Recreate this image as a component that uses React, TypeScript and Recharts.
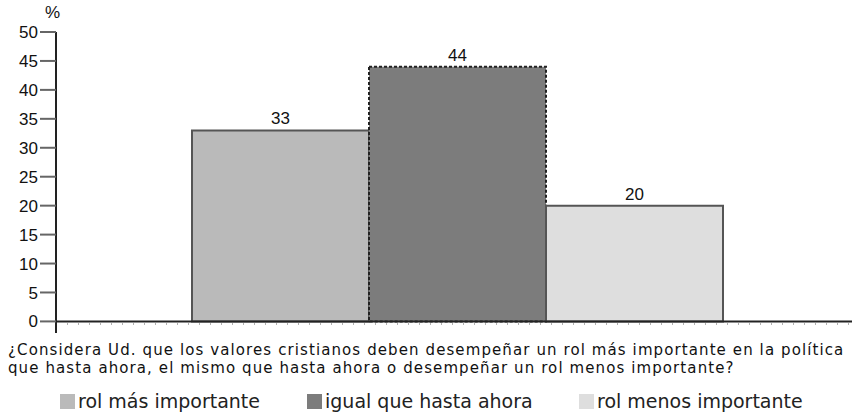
import { BarChart, Bar, XAxis, YAxis, LabelList, Legend, ReferenceLine } from "recharts";

// single survey question, three answer shares (%)
const seriesNames = ["rol más importante", "igual que hasta ahora", "rol menos importante"];
const seriesValues = [33, 44, 20];
const seriesColors = ["#bababa", "#7c7c7c", "#dedede"];
const yTicks = [0, 5, 10, 15, 20, 25, 30, 35, 40, 45, 50];
const questionLines = [
  "¿Considera Ud. que los valores cristianos deben desempeñar un rol más importante en la política",
  "que hasta ahora, el mismo que hasta ahora o desempeñar un rol menos importante?",
];

const data = [
  seriesNames.reduce(
    (row: Record<string, string | number>, name, i) => {
      row["s" + i] = seriesValues[i];
      return row;
    },
    { name: "q" }
  ),
];

const strokes = ["#555", "#222", "#555"];
const dashes = [undefined, "3 2", undefined];

const legendLeft = [60, 307, 579];

function LegendContent() {
  return (
    <div style={{ position: "relative", width: 852, height: 24 }}>
      {seriesNames.map((n, i) => (
        <div
          key={n}
          style={{
            position: "absolute",
            left: legendLeft[i],
            top: 0,
            display: "flex",
            alignItems: "center",
            fontFamily: "DejaVu Sans",
            fontSize: 19,
            color: "#222",
            whiteSpace: "nowrap",
          }}
        >
          <span
            style={{
              display: "inline-block",
              width: 15,
              height: 15,
              background: seriesColors[i],
              marginRight: 3,
            }}
          />
          {n}
        </div>
      ))}
    </div>
  );
}

export default function App() {
  return (
    <div
      style={{
        position: "absolute",
        left: 0,
        top: 0,
        width: 852,
        height: 420,
        background: "#fff",
      }}
    >
      <div
        style={{
          position: "absolute",
          left: 45,
          top: 3,
          fontFamily: "Liberation Sans",
          fontSize: 17,
          color: "#111",
        }}
      >
        %
      </div>
      <BarChart
        width={852}
        height={420}
        data={data}
        margin={{ top: 32, right: 0, left: 0, bottom: 87 }}
        barGap={0}
        barSize={177}
      >
        <XAxis
          dataKey="name"
          tick={false}
          tickLine={false}
          height={0}
          padding={{ left: 6, right: 0 }}
          axisLine={false}
        />
        <YAxis
          domain={[-2, 50]}
          ticks={yTicks}
          width={56}
          interval={0}
          allowDataOverflow
          tickSize={16}
          tickMargin={2}
          tickLine={{ stroke: "#666", strokeWidth: 2 }}
          axisLine={{ stroke: "#222", strokeWidth: 2 }}
          tick={{ fontSize: 17, fill: "#111", fontFamily: "Liberation Sans" }}
        />
        <ReferenceLine y={-0.45} stroke="#b0b0b0" strokeWidth={2} strokeDasharray="1 10" />
        {seriesNames.map((n, i) => (
          <Bar
            key={n}
            dataKey={"s" + i}
            name={n}
            fill={seriesColors[i]}
            stroke={strokes[i]}
            strokeWidth={2}
            strokeDasharray={dashes[i]}
            isAnimationActive={false}
          >
            <LabelList
              dataKey={"s" + i}
              position="top"
              offset={6}
              fill="#111"
              fontSize={17}
              fontFamily="Liberation Sans"
            />
          </Bar>
        ))}
        <ReferenceLine y={0} stroke="#222" strokeWidth={2} />
        <Legend
          layout="horizontal"
          verticalAlign="middle"
          wrapperStyle={{ top: 390, left: 0 }}
          content={<LegendContent />}
        />
      </BarChart>
      <div
        style={{
          position: "absolute",
          left: 8,
          top: 341,
          fontFamily: "DejaVu Sans",
          fontSize: 15,
          letterSpacing: 1.1,
          lineHeight: "18px",
          color: "#111",
          whiteSpace: "nowrap",
        }}
      >
        {questionLines.map((l) => (
          <div key={l}>{l}</div>
        ))}
      </div>
    </div>
  );
}
